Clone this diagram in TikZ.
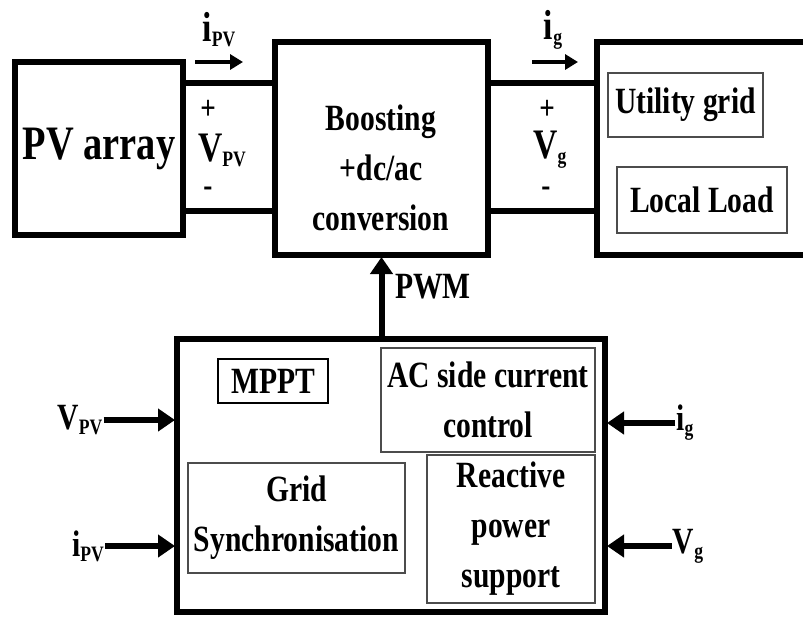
\documentclass[tikz,border=0pt]{standalone}
\usepackage{fontspec}
\setmainfont{Liberation Serif}[FakeStretch=0.8]
\usetikzlibrary{arrows.meta}
\newcommand\blkfont{\fontsize{37}{50}\selectfont\bfseries}
\newcommand\bigfont{\fontsize{48}{56}\selectfont\bfseries}
\newcommand\sigfont{\fontsize{42}{46}\selectfont\bfseries}
\newcommand\pmfont{\fontsize{34}{34}\selectfont\bfseries}
\newcommand\subtxt[1]{\raisebox{-5pt}{\fontsize{22}{22}\selectfont #1}}
\begin{document}
\begin{tikzpicture}[x=1pt, y=-1pt,
  blk/.style={draw, line width=5.5pt, outer sep=0pt, align=center, font=\blkfont},
  sub/.style={draw=black!70, line width=2.5pt, outer sep=0pt, align=center, font=\blkfont},
  txt/.style={align=center, font=\blkfont, inner sep=0pt},
  sig/.style={font=\sigfont, inner sep=0pt},
  pm/.style={font=\pmfont, inner sep=0pt},
  insig/.style={font=\blkfont, inner sep=1pt},
  wire/.style={line width=6pt},
  arr/.style={line width=6pt, -{Triangle[length=17pt, width=22pt]}, shorten >=2pt},
  cur/.style={line width=4pt, -{Triangle[length=13pt, width=15pt]}}
]
\clip (0,0) rectangle (803,616);
\node[blk, minimum width=168pt, minimum height=173pt, font=\bigfont] (pv) at (99,148.5) {PV array};
\node[blk, minimum width=213pt, minimum height=213pt] (boost) at (381.5,148.5) {};
\node[txt] (boosttxt) at (381,168) {Boosting\\+dc/ac\\conversion};
\node[blk, minimum width=240pt, minimum height=213pt] (grid) at (717,148.5) {};
\node[sub, minimum width=155pt, minimum height=64pt] (util) at (685.5,105) {Utility grid};
\node[sub, minimum width=170pt, minimum height=66pt] (load) at (702,200) {Local Load};

\coordinate (ptop) at (0,83);
\coordinate (pbot) at (0,211);
\draw[wire] (pv.east |- ptop) -- (boost.west |- ptop);
\draw[wire] (pv.east |- pbot) -- (boost.west |- pbot);
\draw[wire] (boost.east |- ptop) -- (grid.west |- ptop);
\draw[wire] (boost.east |- pbot) -- (grid.west |- pbot);

\coordinate (ipva) at (195,62);
\coordinate (ipvb) at (243,62);
\draw[cur] (ipva) -- (ipvb);
\node[sig] (ipv) at (219,30) {i\subtxt{PV}};
\node[pm] (plus1) at (208,110) {+};
\node[sig] (vpv) at (222,150) {V\subtxt{PV}};
\node[pm] (minus1) at (208,192) {-};

\coordinate (iga) at (532,62);
\coordinate (igb) at (578,62);
\draw[cur] (iga) -- (igb);
\node[sig] (ig) at (553,30) {i\subtxt{g}};
\node[pm] (plus2) at (547,110) {+};
\node[sig] (vg) at (550,150) {V\subtxt{g}};
\node[pm] (minus2) at (546,192) {-};

\node[blk, minimum width=428pt, minimum height=273pt] (ctrl) at (391,475.5) {};
\node[sub, draw=black, minimum width=110pt, minimum height=44pt] (mppt) at (273,381) {MPPT};
\node[sub, minimum width=214pt, minimum height=104pt] (accc) at (488,400) {AC side current\\control};
\node[sub, minimum width=217pt, minimum height=110pt] (sync) at (296.5,518) {Grid\\Synchronisation};
\node[sub, minimum width=168pt, minimum height=148pt] (reac) at (511,529) {Reactive\\power\\support};

\draw[arr] (boost.south |- ctrl.north) -- (boost.south);
\node[insig] (pwm) at (433,287) {PWM};

\node[insig] (vpvin) at (80,420) {V\subtxt{PV}};
\node[insig] (ipvin) at (88,546) {i\subtxt{PV}};
\node[insig] (igin) at (685,423) {i\subtxt{g}};
\node[insig] (vgin) at (688,546) {V\subtxt{g}};
\draw[arr] (vpvin.east) -- (vpvin.east -| ctrl.west);
\draw[arr] (ipvin.east) -- (ipvin.east -| ctrl.west);
\draw[arr] (igin.west) -- (igin.west -| ctrl.east);
\draw[arr] (vgin.west) -- (vgin.west -| ctrl.east);
\end{tikzpicture}
\end{document}
